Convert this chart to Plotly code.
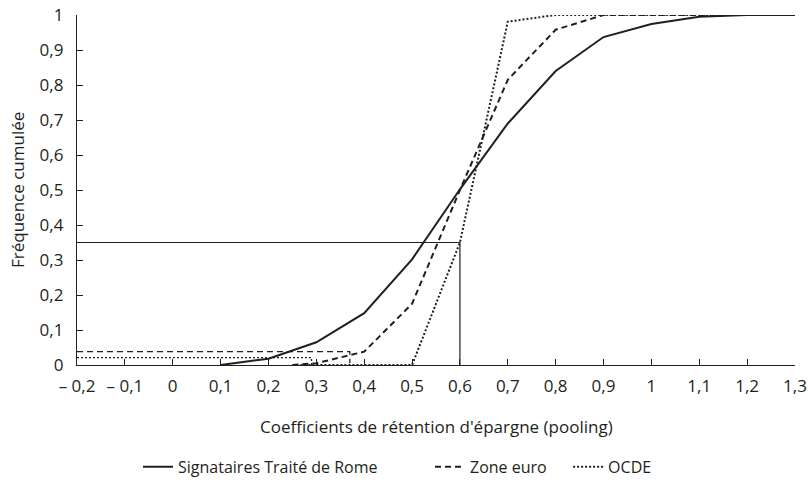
import plotly.graph_objects as go

# ---- data ----
x_sig = [0.1, 0.2, 0.3, 0.4, 0.5, 0.6, 0.7, 0.8, 0.9, 1.0, 1.1, 1.2, 1.3]
y_sig = [0.0, 0.018, 0.065, 0.148, 0.302, 0.502, 0.69, 0.84, 0.937, 0.974, 0.995, 1.0, 1.0]

x_euro = [0.25, 0.3, 0.4, 0.5, 0.6, 0.7, 0.8, 0.9, 1.0, 1.1, 1.2, 1.3]
y_euro = [0.0, 0.005, 0.038, 0.175, 0.5, 0.815, 0.958, 1.0, 1.0, 1.0, 1.0, 1.0]

x_ocde = [0.25, 0.3, 0.4, 0.5, 0.6, 0.7, 0.8, 0.9, 1.0, 1.1, 1.2, 1.3]
y_ocde = [0.0, 0.0, 0.0, 0.0, 0.35, 0.981, 1.0, 1.0, 1.0, 1.0, 1.0, 1.0]

# reference guide lines
x_ref_box = [-0.2, 0.6, 0.6]
y_ref_box = [0.35, 0.35, 0.0]
x_ref_euro = [-0.2, 0.37, 0.37]
y_ref_euro = [0.038, 0.038, 0.005]
x_ref_ocde = [-0.2, 0.29, 0.29]
y_ref_ocde = [0.021, 0.021, 0.0]

x_ticks = [-0.2, -0.1, 0, 0.1, 0.2, 0.3, 0.4, 0.5, 0.6, 0.7, 0.8, 0.9, 1.0, 1.1, 1.2, 1.3]
x_ticktext = ["\u2013 0,2", "\u2013 0,1", "0", "0,1", "0,2", "0,3", "0,4", "0,5", "0,6",
              "0,7", "0,8", "0,9", "1", "1,1", "1,2", "1,3"]
y_ticks = [0, 0.1, 0.2, 0.3, 0.4, 0.5, 0.6, 0.7, 0.8, 0.9, 1.0]
y_ticktext = ["0", "0,1", "0,2", "0,3", "0,4", "0,5", "0,6", "0,7", "0,8", "0,9", "1"]

names = ["Signataires Traité de Rome", "Zone euro", "OCDE"]

INK = "#231f20"
FONT = "Open Sans"
FS = 17

fig = go.Figure()

# guide lines (no legend)
fig.add_trace(go.Scatter(x=x_ref_box, y=y_ref_box, mode="lines",
                         line=dict(color=INK, width=1.2), showlegend=False, hoverinfo="skip"))
fig.add_trace(go.Scatter(x=x_ref_euro, y=y_ref_euro, mode="lines",
                         line=dict(color=INK, width=1.3, dash="6px,4px"), showlegend=False, hoverinfo="skip"))
fig.add_trace(go.Scatter(x=x_ref_ocde, y=y_ref_ocde, mode="lines",
                         line=dict(color=INK, width=1.3, dash="2px,2px"), showlegend=False, hoverinfo="skip"))

fig.add_trace(go.Scatter(x=x_sig, y=y_sig, mode="lines", name=names[0], legend="legend",
                         line=dict(color=INK, width=2)))
fig.add_trace(go.Scatter(x=x_euro, y=y_euro, mode="lines", name=names[1], legend="legend2",
                         line=dict(color=INK, width=2, dash="6px,4px")))
fig.add_trace(go.Scatter(x=x_ocde, y=y_ocde, mode="lines", name=names[2], legend="legend3",
                         line=dict(color=INK, width=2, dash="2px,2px")))

leg_common = dict(orientation="h", y=-0.291, yanchor="middle", xanchor="left",
                  font=dict(family=FONT, size=16, color=INK), bgcolor="rgba(0,0,0,0)")

fig.update_layout(
    width=808, height=485,
    margin=dict(l=77, r=13, t=15, b=120, autoexpand=False),
    paper_bgcolor="white", plot_bgcolor="white",
    font=dict(family=FONT, size=FS, color=INK),
    showlegend=True,
    legend=dict(x=0.085, **leg_common),
    legend2=dict(x=0.4916, **leg_common),
    legend3=dict(x=0.684, **leg_common),
    xaxis=dict(range=[-0.2, 1.3], tickmode="array", tickvals=x_ticks, ticktext=x_ticktext,
               showgrid=False, zeroline=False, showline=True, linecolor=INK, linewidth=1.3,
               ticks="inside", ticklen=6, tickcolor=INK, tickwidth=1.2, automargin=False,
               ticklabelstandoff=5,
               tickfont=dict(family=FONT, size=FS, color=INK)),
    yaxis=dict(range=[0, 1.0], tickmode="array", tickvals=y_ticks, ticktext=y_ticktext,
               showgrid=False, zeroline=False, showline=True, linecolor=INK, linewidth=1.3,
               ticks="inside", ticklen=6, tickcolor=INK, tickwidth=1.2, automargin=False,
               ticklabelstandoff=9,
               tickfont=dict(family=FONT, size=FS, color=INK)),
    annotations=[
        dict(text="Coefficients de rétention d'épargne (pooling)", xref="paper", yref="paper",
             x=0.5, y=-0.177, xanchor="center", yanchor="middle", showarrow=False,
             font=dict(family=FONT, size=FS, color=INK)),
        dict(text="Fréquence cumulée", xref="paper", yref="paper",
             x=-0.0836, y=0.5, xanchor="center", yanchor="middle", showarrow=False,
             textangle=-90, font=dict(family=FONT, size=FS, color=INK)),
    ],
)

fig.write_html("out.html")
